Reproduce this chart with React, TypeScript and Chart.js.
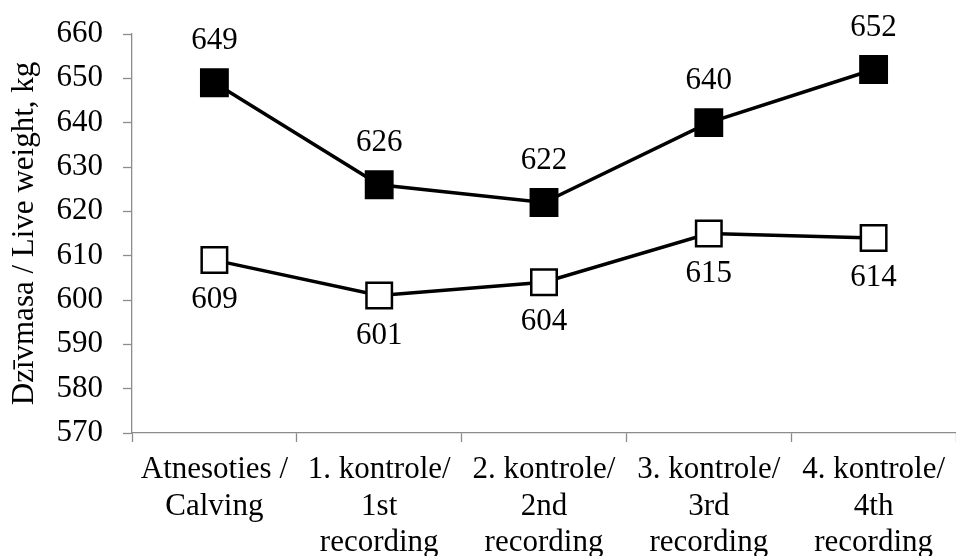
import React, { useEffect, useRef } from "react";
import { Chart, registerables } from "chart.js";

Chart.register(...registerables);

const categories: string[][] = [
  ["Atnesoties /", "Calving"],
  ["1. kontrole/", "1st", "recording"],
  ["2. kontrole/", "2nd", "recording"],
  ["3. kontrole/", "3rd", "recording"],
  ["4. kontrole/", "4th", "recording"],
];
const seriesA: number[] = [649, 626, 622, 640, 652];
const seriesB: number[] = [609, 601, 604, 615, 614];
const yMin = 570;
const yMax = 660;
const yStep = 10;
const yTitle = "Dzīvmasa / Live weight, kg";

const FONT = "'Liberation Serif', 'Times New Roman', serif";

const labelPlugin = {
  id: "valueLabels",
  afterDatasetsDraw(chart: any) {
    const ctx = chart.ctx;
    ctx.save();
    ctx.font = `31px ${FONT}`;
    ctx.fillStyle = "#000";
    ctx.textAlign = "center";
    ctx.textBaseline = "middle";
    chart.data.datasets.forEach((ds: any, di: number) => {
      const meta = chart.getDatasetMeta(di);
      meta.data.forEach((pt: any, i: number) => {
        const off = di === 0 ? -42 : 40;
        ctx.fillText(String(ds.data[i]), pt.x, pt.y + off);
      });
    });
    ctx.restore();
  },
};

export default function App() {
  const ref = useRef<HTMLCanvasElement | null>(null);
  useEffect(() => {
    if (!ref.current) return;
    const chart = new Chart(ref.current, {
      type: "line",
      data: {
        labels: categories as any,
        datasets: [
          {
            data: seriesA,
            borderColor: "#000",
            borderWidth: 3.5,
            pointStyle: "rect",
            pointRadius: 19,
            pointBackgroundColor: "#000",
            pointBorderColor: "#000",
            pointBorderWidth: 2,
            tension: 0,
          },
          {
            data: seriesB,
            borderColor: "#000",
            borderWidth: 3.5,
            pointStyle: "rect",
            pointRadius: 18,
            pointBackgroundColor: "#fff",
            pointBorderColor: "#000",
            pointBorderWidth: 2.5,
            tension: 0,
          },
        ],
      },
      options: {
        animation: false,
        responsive: true,
        maintainAspectRatio: false,
        layout: { autoPadding: false, padding: { top: 34, right: 0, left: 0, bottom: 0 } },
        plugins: {
          legend: { display: false },
          tooltip: { enabled: false },
        },
        scales: {
          x: {
            type: "category",
            offset: true,
            grid: {
              offset: true,
              drawOnChartArea: false,
              tickLength: 9,
              color: "#8c8c8c",
              tickWidth: 1.3,
            },
            border: { color: "#8c8c8c", width: 1.3 },
            ticks: {
              color: "#000",
              font: { family: FONT, size: 31, lineHeight: 1.17 },
              padding: 10,
              maxRotation: 0,
              minRotation: 0,
              autoSkip: false,
            },
            afterFit: (s: any) => {
              s.height = 123;
              s.paddingLeft = 0;
              s.paddingRight = 0;
            },
          },
          y: {
            min: yMin,
            max: yMax,
            grid: {
              drawOnChartArea: false,
              tickLength: 9,
              color: "#8c8c8c",
              tickWidth: 1.3,
            },
            border: { color: "#8c8c8c", width: 1.3 },
            ticks: {
              stepSize: yStep,
              color: "#000",
              font: { family: FONT, size: 31 },
              padding: 20,
            },
            title: {
              display: true,
              text: yTitle,
              color: "#000",
              font: { family: FONT, size: 31 },
              padding: { top: 6, bottom: 0 },
            },
            afterFit: (s: any) => {
              s.width = 132;
              s.paddingTop = 0;
              s.paddingBottom = 0;
            },
          },
        },
      },
      plugins: [labelPlugin],
    });
    return () => chart.destroy();
  }, []);
  return (
    <div
      style={{
        position: "fixed",
        left: 0,
        top: 0,
        width: 956,
        height: 556,
        background: "#fff",
      }}
    >
      <canvas ref={ref} />
    </div>
  );
}
